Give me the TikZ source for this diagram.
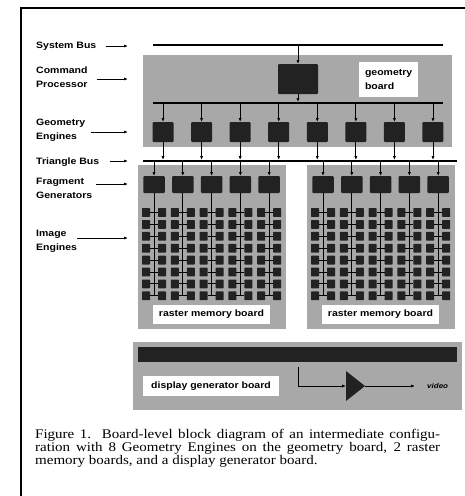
\documentclass[tikz,border=0pt]{standalone}
\usepackage{fontspec}
\usepackage{graphicx}
\setmainfont{Liberation Serif}
\setsansfont{Liberation Sans}
\usetikzlibrary{arrows.meta}
\definecolor{boardgray}{HTML}{A8A8A8}
\definecolor{chip}{HTML}{222222}
\newcommand\vsqueeze[1]{\scalebox{1}[0.88]{#1}}
\newcommand\twolines[2]{\vsqueeze{\begin{tabular}{@{}l@{}}#1\\#2\end{tabular}}}
\begin{document}
\begin{tikzpicture}[x=1pt,y=-1pt,
  board/.style={fill=boardgray,draw=none,inner sep=0,outer sep=0},
  chipbox/.style={fill=chip,draw=none,rounded corners=1pt,inner sep=0,outer sep=0},
  iebox/.style={fill=chip,draw=none,rounded corners=0.6pt,inner sep=0,outer sep=0,minimum width=8,minimum height=8.8},
  bus/.style={line width=2pt},
  wire/.style={line width=0.9pt},
  feed/.style={line width=0.8pt,-{Latex[length=4pt,width=3.2pt]}},
  pointer/.style={line width=0.7pt,-{Latex[length=4pt,width=3pt]}},
  lbl/.style={font=\sffamily\bfseries\fontsize{10.5}{16}\selectfont,anchor=west,inner sep=0},
  tag/.style={fill=white,font=\sffamily\bfseries\fontsize{10.5}{16}\selectfont,inner sep=0,outer sep=0}]
\useasboundingbox (0,0) rectangle (464,496);

% frame
\coordinate (fBL) at (21,497);
\coordinate (fTL) at (21,8);
\coordinate (fTR) at (465,8);
\draw[line width=2pt] (fBL) -- (fTL) -- (fTR);

% geometry board
\node[board,minimum width=309,minimum height=92,anchor=north west] (geoboard) at (143,55) {};
\node[tag,anchor=north west,minimum width=59,minimum height=35,inner xsep=6] (geotag) at (359,62) {\twolines{geometry}{board}};

\coordinate (sysL) at (153,45);
\coordinate (sysR) at (443,45);
\draw[bus] (sysL) -- (sysR);
\node[chipbox,minimum width=40,minimum height=30] (cp) at (298,79) {};
\coordinate (gbL) at (153,103);
\coordinate (gbR) at (443,103);
\draw[bus] (gbL) -- (gbR);
\draw[feed] (cp.north |- sysL) -- (cp.north);
\draw[feed] (cp.south) -- ([yshift=1pt]cp.south |- gbL);

\coordinate (tbL) at (143,161);
\coordinate (tbR) at (457,161);
\draw[bus] (tbL) -- (tbR);
\foreach \i in {0,...,7}{
  \node[chipbox,minimum width=21,minimum height=20] (ge\i) at ({163+38.57*\i},132) {};
  \draw[feed] (ge\i.north |- gbL) -- (ge\i.north);
  \draw[feed] (ge\i.south) -- ([yshift=1pt]ge\i.south |- tbL);
}

% raster memory boards
\foreach \b/\off in {0/0,1/169}{
  \node[board,minimum width=148,minimum height=164,anchor=north west] (rb\b) at ({138+\off},165) {};
  \node[tag,minimum width=117,minimum height=19] (rt\b) at ({211.5+\off},314.5) {\vsqueeze{raster memory board}};
  \foreach \j in {0,...,4}{
    \node[chipbox,minimum width=21.5,minimum height=17] (fg\b\j) at ({154+\off+28.8*\j},184.5) {};
    \draw[feed] (fg\b\j.north |- tbL) -- (fg\b\j.north);
    \coordinate (ve\b\j) at ({154+\off+28.8*\j},296);
    \draw[wire] (fg\b\j.south) -- (ve\b\j);
    \foreach \r in {0,...,7}{
      \node[iebox] (ieL\b\j\r) at ({154+\off+28.8*\j-8},{212.5+11.9*\r}) {};
      \node[iebox] (ieR\b\j\r) at ({154+\off+28.8*\j+8},{212.5+11.9*\r}) {};
      \draw[wire] (ieL\b\j\r) -- (ieR\b\j\r);
    }
  }
}

% display generator board
\node[board,minimum width=329,minimum height=68,anchor=north west] (db) at (133,342) {};
\node[fill=chip,draw=none,inner sep=0,outer sep=0,minimum width=319,minimum height=15,anchor=north west] (dbar) at (138,347) {};
\node[tag,minimum width=136,minimum height=20] (dtag) at (211,386) {\vsqueeze{display generator board}};
\coordinate (vstart) at (298,367);
\coordinate (ampIn) at (346,386);
\coordinate (ampOut) at (365,386);
\fill[chip] (346,371) -- (ampOut) -- (346,401) -- cycle;
\draw[feed] (vstart) |- (ampIn);
\node[font=\sffamily\bfseries\itshape\fontsize{8}{9}\selectfont,anchor=west,inner sep=0] (video) at (427,386) {\vsqueeze{video}};
\coordinate (vidtip) at (415,386);
\draw[feed] (ampOut) -- (vidtip);

% left labels
\coordinate (tx) at (128,0);
\node[lbl] (lsys) at (36,46) {\vsqueeze{System Bus}};
\coordinate (psys) at (106,46);
\draw[pointer] (psys) -- (psys -| tx);
\node[lbl] (lcmd) at (36,78) {\twolines{Command}{Processor}};
\coordinate (pcmd) at (97,79);
\draw[pointer] (pcmd) -- (pcmd -| tx);
\node[lbl] (lge) at (36,130) {\twolines{Geometry}{Engines}};
\coordinate (pge) at (91,132);
\draw[pointer] (pge) -- (pge -| tx);
\node[lbl] (ltb) at (36,162) {\vsqueeze{Triangle Bus}};
\coordinate (ptb) at (110,161);
\draw[pointer] (ptb) -- (ptb -| tx);
\node[lbl] (lfg) at (36,188.5) {\twolines{Fragment}{Generators}};
\coordinate (pfg) at (96,184);
\draw[pointer] (pfg) -- (pfg -| tx);
\node[lbl] (lie) at (36,241) {\twolines{Image}{Engines}};
\coordinate (pie) at (77,238);
\draw[pointer] (pie) -- (pie -| tx);

% caption
\node[anchor=north west,inner sep=0] (cap) at (35,429) {\scalebox{1}[0.88]{\parbox{405pt}{\fontsize{15}{14.8}\selectfont Figure 1.\ \ Board-level block diagram of an intermediate configu-\linebreak ration with 8 Geometry Engines on the geometry board, 2 raster\linebreak memory boards, and a display generator board.}}};
\end{tikzpicture}
\end{document}
